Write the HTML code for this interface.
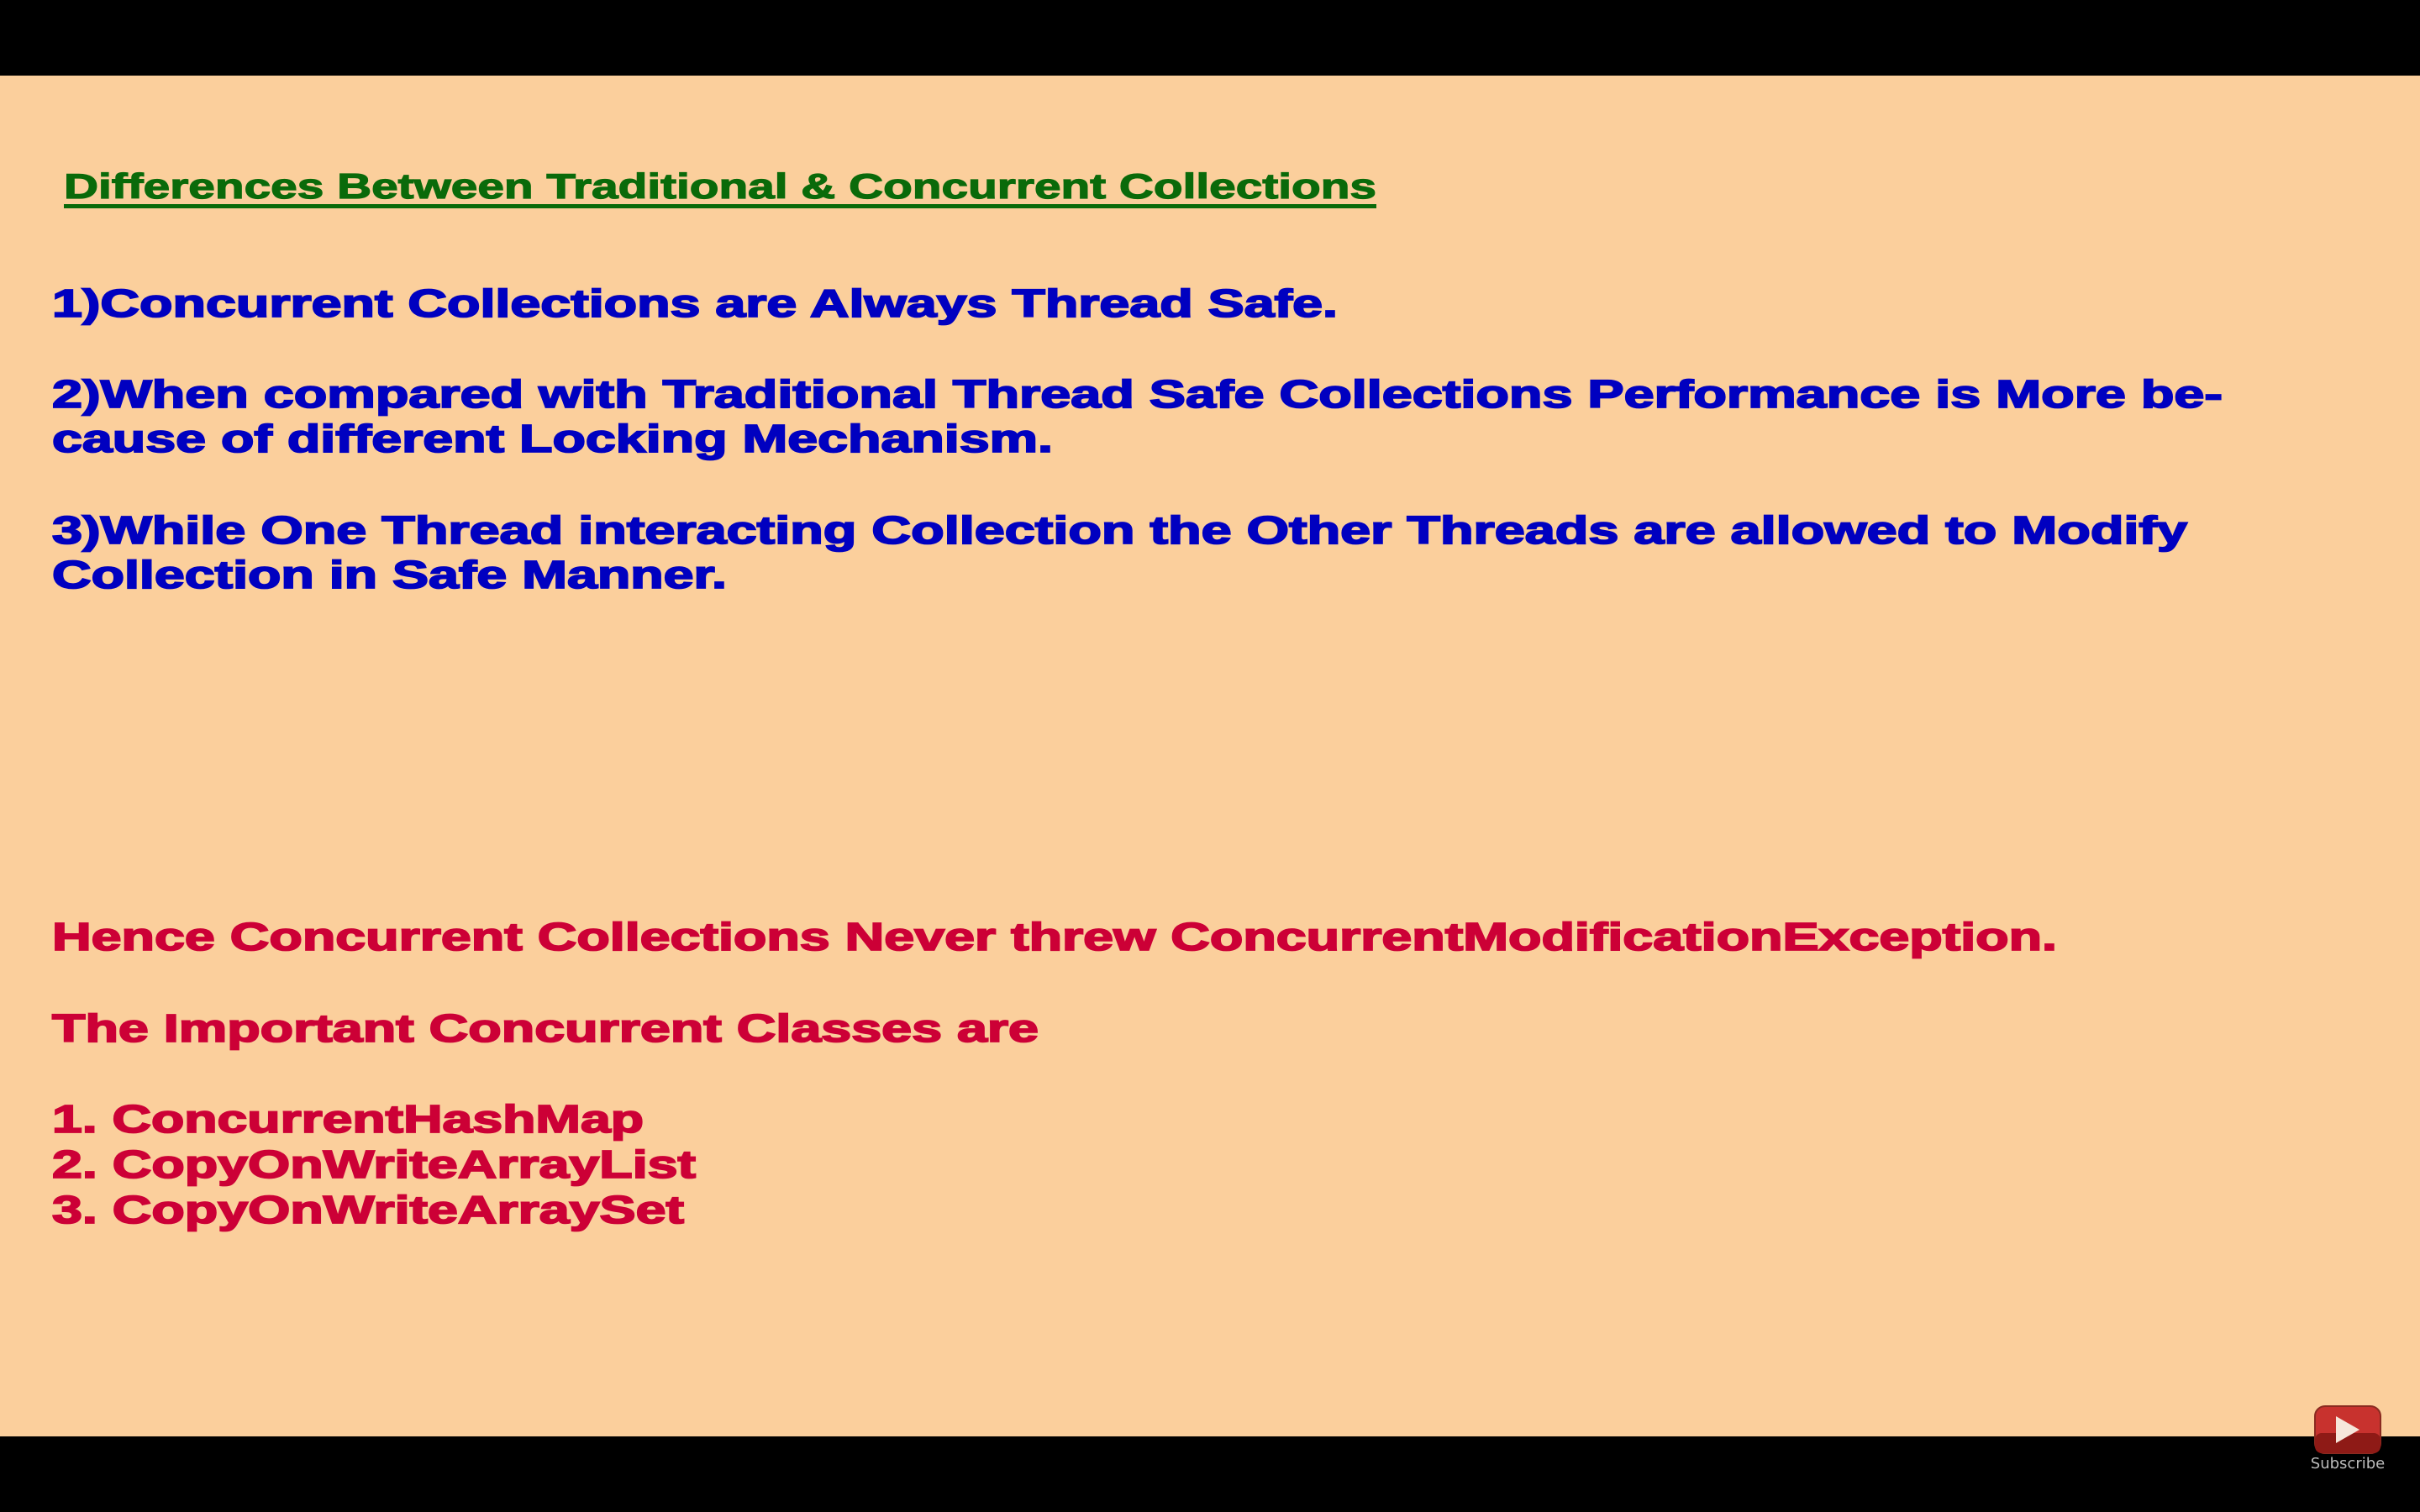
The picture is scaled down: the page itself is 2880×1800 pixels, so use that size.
<!DOCTYPE html>
<html><head><meta charset="utf-8"><style>
html,body{margin:0;padding:0;background:#000;}
svg{display:block;}
text{font-family:"Liberation Sans",Arial,sans-serif;font-weight:bold;}
</style></head><body>
<svg width="2880" height="1800" viewBox="0 0 2880 1800">
<rect x="0" y="0" width="2880" height="1800" fill="#000"/>
<rect x="0" y="90" width="2880" height="1620" fill="#FBCF9C"/>
<g fill="#0A6A0A" stroke="#0A6A0A" stroke-width="1.2" font-size="42">
<text x="76" y="236" textLength="1562" lengthAdjust="spacingAndGlyphs">Differences Between Traditional &amp; Concurrent Collections</text>
<rect x="76" y="243" width="1562" height="5" stroke="none"/>
</g>
<g fill="#0000C0" stroke="#0000C0" stroke-width="1.8" font-size="46">
<text x="62" y="377" textLength="1530" lengthAdjust="spacingAndGlyphs">1)Concurrent Collections are Always Thread Safe.</text>
<text x="62" y="485" textLength="2583" lengthAdjust="spacingAndGlyphs">2)When compared with Traditional Thread Safe Collections Performance is More be-</text>
<text x="62" y="538" textLength="1191" lengthAdjust="spacingAndGlyphs">cause of different Locking Mechanism.</text>
<text x="62" y="647" textLength="2541" lengthAdjust="spacingAndGlyphs">3)While One Thread interacting Collection the Other Threads are allowed to Modify</text>
<text x="62" y="700" textLength="803" lengthAdjust="spacingAndGlyphs">Collection in Safe Manner.</text>
</g>
<g fill="#CC0036" stroke="#CC0036" stroke-width="1.8" font-size="46">
<text x="62" y="1131" textLength="2386" lengthAdjust="spacingAndGlyphs">Hence Concurrent Collections Never threw ConcurrentModificationException.</text>
<text x="62" y="1240" textLength="1174" lengthAdjust="spacingAndGlyphs">The Important Concurrent Classes are</text>
<text x="62" y="1348" textLength="704" lengthAdjust="spacingAndGlyphs">1. ConcurrentHashMap</text>
<text x="62" y="1402" textLength="766" lengthAdjust="spacingAndGlyphs">2. CopyOnWriteArrayList</text>
<text x="62" y="1456" textLength="752" lengthAdjust="spacingAndGlyphs">3. CopyOnWriteArraySet</text>
</g>
<g>
<rect x="2755" y="1674" width="78" height="56" rx="12" fill="#C8322E" stroke="#8a2a20" stroke-width="2"/>
<rect x="2755" y="1706" width="78" height="24" rx="8" fill="#8E1A16"/>
<polygon points="2780,1686 2780,1718 2808,1702" fill="#F6E6DA"/>
<text x="2794" y="1748" font-size="18" fill="#bbb" text-anchor="middle" style="font-family:'DejaVu Sans',sans-serif;font-weight:normal">Subscribe</text>
</g>
</svg>
</body></html>
